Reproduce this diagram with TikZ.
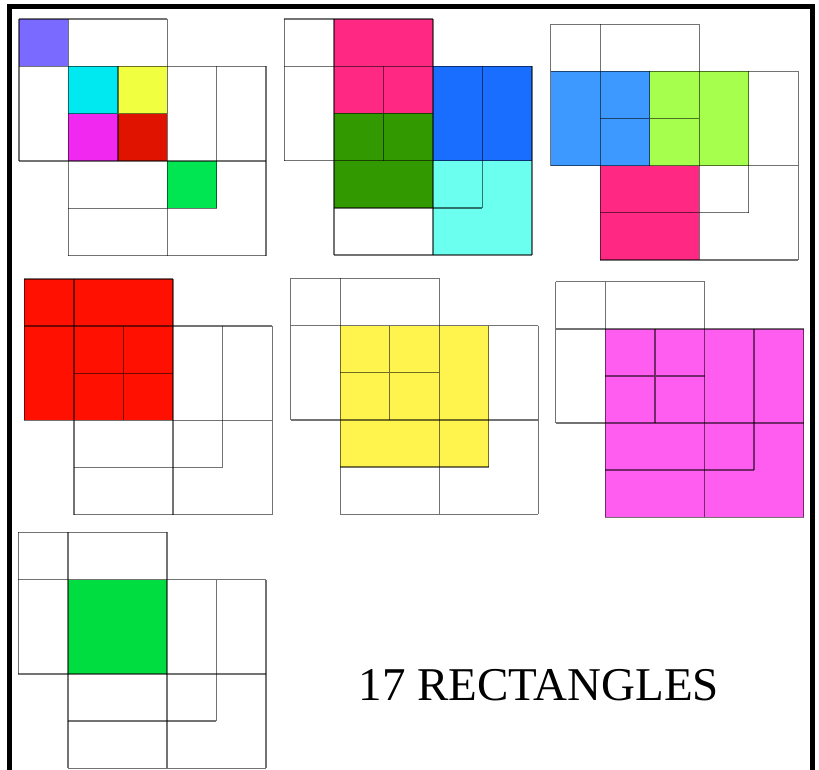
\documentclass[tikz,border=0pt]{standalone}
\usepackage{fontspec}
\setmainfont{Liberation Serif}
\usetikzlibrary{positioning}

\definecolor{cPurple}{RGB}{123,106,255}
\definecolor{cCyan}{RGB}{0,232,240}
\definecolor{cYellow}{RGB}{240,255,64}
\definecolor{cMagenta}{RGB}{240,40,240}
\definecolor{cRed}{RGB}{224,18,0}
\definecolor{cGreen}{RGB}{0,230,82}
\definecolor{cPink}{RGB}{255,40,130}
\definecolor{cDkGreen}{RGB}{51,153,0}
\definecolor{cBlue}{RGB}{26,110,255}
\definecolor{cAqua}{RGB}{107,255,240}
\definecolor{cSky}{RGB}{61,153,255}
\definecolor{cLime}{RGB}{166,255,77}
\definecolor{cScarlet}{RGB}{255,16,0}
\definecolor{cLemon}{RGB}{255,243,77}
\definecolor{cOrchid}{RGB}{255,92,240}
\definecolor{cEmerald}{RGB}{0,221,64}

\tikzset{
  gline/.style={draw=black,draw opacity=0.55,line width=1.4pt},
  frame/.style={draw=black,line width=5pt},
  title/.style={font=\fontsize{47}{50}\selectfont,inner sep=0pt}
}

% grid of one figure, unit squares, (0,0) top left
\newcommand{\rectgrid}{%
  \draw[gline] (0,0)--(3,0) (0,1)--(5,1) (0,3)--(5,3) (1,4)--(4,4) (1,5)--(5,5);
  \draw[gline] (0,0)--(0,3) (1,0)--(1,5) (3,0)--(3,5) (4,1)--(4,4) (5,1)--(5,5);
}
\newcommand{\rectcross}{%
  \draw[gline] (2,1)--(2,3) (1,2)--(3,2);
}

\begin{document}
\begin{tikzpicture}[x=1pt,y=-1pt]
  \useasboundingbox (0,0) rectangle (819,769);
  % page frame
  \draw[frame] (9.8,790) -- (9.8,6.2) -- (812.5,6.2) -- (812.5,790);

  % Figure 1
  \begin{scope}[xshift=19pt,yshift=-19pt,x=49.4pt,y=-47.3pt]
    \fill[cPurple] (0,0) rectangle (1,1);
    \fill[cCyan] (1,1) rectangle (2,2);
    \fill[cYellow] (2,1) rectangle (3,2);
    \fill[cMagenta] (1,2) rectangle (2,3);
    \fill[cRed] (2,2) rectangle (3,3);
    \fill[cGreen] (3,3) rectangle (4,4);
    \rectgrid \rectcross
  \end{scope}

  % Figure 2
  \begin{scope}[xshift=284.3pt,yshift=-19pt,x=49.5pt,y=-47.2pt]
    \fill[cPink] (1,0) rectangle (3,2);
    \fill[cDkGreen] (1,2) rectangle (3,4);
    \fill[cBlue] (3,1) rectangle (5,3);
    \fill[cAqua] (3,3) rectangle (5,5);
    \rectgrid \rectcross
  \end{scope}

  % Figure 3
  \begin{scope}[xshift=550.7pt,yshift=-24.3pt,x=49.5pt,y=-47.1pt]
    \fill[cSky] (0,1) rectangle (2,3);
    \fill[cLime] (2,1) rectangle (4,3);
    \fill[cPink] (1,3) rectangle (3,5);
    \rectgrid \rectcross
  \end{scope}

  % Figure 4
  \begin{scope}[xshift=24.3pt,yshift=-279pt,x=49.6pt,y=-47.1pt]
    \fill[cScarlet] (0,0) rectangle (3,3);
    \rectgrid \rectcross
  \end{scope}

  % Figure 5
  \begin{scope}[xshift=290.7pt,yshift=-278.3pt,x=49.5pt,y=-47.2pt]
    \fill[cLemon] (1,1) rectangle (4,4);
    \rectgrid \rectcross
  \end{scope}

  % Figure 6
  \begin{scope}[xshift=555.7pt,yshift=-281.7pt,x=49.6pt,y=-47.1pt]
    \fill[cOrchid] (1,1) rectangle (5,5);
    \rectgrid \rectcross
  \end{scope}

  % Figure 7
  \begin{scope}[xshift=18.3pt,yshift=-532.3pt,x=49.5pt,y=-47.2pt]
    \fill[cEmerald] (1,1) rectangle (3,3);
    \rectgrid
  \end{scope}

  % Answer
  \node[title] (answer) at (538.8,685) {17 RECTANGLES};
\end{tikzpicture}
\end{document}
